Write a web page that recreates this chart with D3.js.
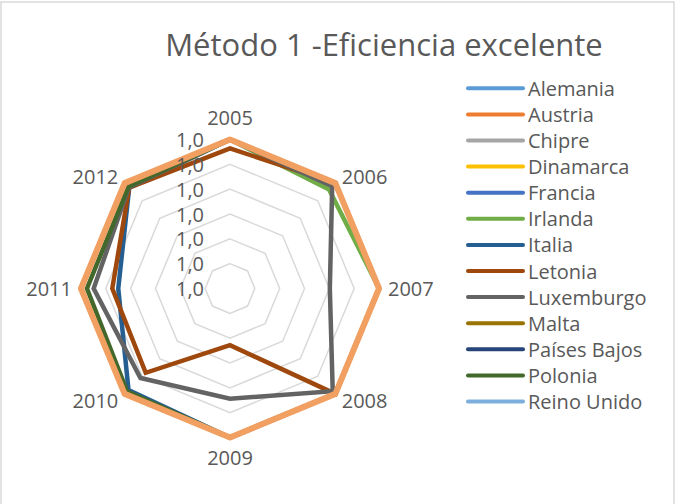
<!DOCTYPE html>
<html>
<head>
<meta charset="utf-8">
<script src="https://cdn.jsdelivr.net/npm/d3@7"></script>
<style>
  body { margin: 0; background: #fff; }
  text { font-family: "Open Sans", sans-serif; fill: #595959; }
</style>
</head>
<body>
<svg id="chart" width="675" height="504"></svg>
<script>
// radar chart - Método 1
const years = ["2005", "2006", "2007", "2008", "2009", "2010", "2011", "2012"];
const tickValues = [0.97, 0.975, 0.98, 0.985, 0.99, 0.995, 1.0];

const countries = ["Alemania", "Austria", "Chipre", "Dinamarca", "Francia", "Irlanda", "Italia", "Letonia", "Luxemburgo", "Malta", "Países Bajos", "Polonia", "Reino Unido"];
const colors = ["#5B9BD5", "#ED7D31", "#A5A5A5", "#FFC000", "#4472C4", "#70AD47", "#255E91", "#9E480E", "#636363", "#997300", "#264478", "#43682B", "#7CAFDD"];

const alemania   = [1, 1, 1, 1, 1, 1, 1, 1];
const austria    = [1, 1, 1, 1, 1, 1, 1, 1];
const chipre     = [1, 1, 1, 1, 1, 1, 1, 1];
const dinamarca  = [1, 1, 1, 1, 1, 1, 1, 1];
const francia    = [1, 1, 1, 1, 1, 1, 1, 1];
const irlanda    = [1, 0.9982, 1, 1, 1, 1, 1, 1];
const italia     = [1, 1, 1, 1, 1, 0.9989, 0.9925, 0.9987];
const letonia    = [0.9982, 1, 1, 1, 0.9814, 0.994, 0.9937, 0.9987];
const luxemburgo = [1, 0.9991, 0.9901, 0.99925, 0.9922, 0.9955, 0.99745, 0.9988];
const malta      = [1, 1, 1, 1, 1, 1, 1, 1];
const paisesBajos = [1, 1, 1, 1, 1, 1, 1, 1];
const polonia    = [1, 1, 1, 1, 1, 0.9993, 0.9988, 0.99895];
const reinoUnido = [1, 1, 1, 1, 1, 1, 1, 1];

const seriesValues = [alemania, austria, chipre, dinamarca, francia, irlanda, italia, letonia, luxemburgo, malta, paisesBajos, polonia, reinoUnido];

const svg = d3.select("#chart");
const cx = 230, cy = 288.5, R = 149;

const r = d3.scaleLinear().domain([tickValues[0], tickValues[tickValues.length - 1]]).range([0, R]);
const angle = d3.scalePoint().domain(years).range([0, 2 * Math.PI * (years.length - 1) / years.length]);
const fmt = d3.formatLocale({decimal: ",", thousands: ".", grouping: [3], currency: ["", "€"]}).format(".1f");

const pt = (yr, v) => [cx + r(v) * Math.sin(angle(yr)), cy - r(v) * Math.cos(angle(yr))];

// borde
svg.append("rect")
  .attr("x", 1).attr("y", 2).attr("width", 673).attr("height", 520)
  .attr("fill", "none").attr("stroke", "#D9D9D9").attr("stroke-width", 1.5);

// título
svg.append("text")
  .attr("x", 384).attr("y", 56)
  .attr("text-anchor", "middle")
  .style("font-size", "31px")
  .text("Método 1 -Eficiencia excelente");

// anillos
const ring = d3.line().curve(d3.curveLinearClosed);
svg.append("g").selectAll("path")
  .data(tickValues.slice(1))
  .join("path")
  .attr("d", v => ring(years.map(y => pt(y, v))))
  .attr("fill", "none")
  .attr("stroke", "#D9D9D9")
  .attr("stroke-width", 1.5);

// series
const line = d3.line().curve(d3.curveLinearClosed);
const gs = svg.append("g");
gs.selectAll("path")
  .data(seriesValues)
  .join("path")
  .attr("d", vals => line(years.map((y, i) => pt(y, vals[i]))))
  .attr("fill", "none")
  .attr("stroke", (d, i) => colors[i])
  .attr("stroke-width", 4.5)
  .attr("stroke-linejoin", "miter");
// Austria queda encima
gs.selectAll("path").filter((d, i) => i === 1)
  .attr("stroke", "#F2A062")
  .attr("stroke-width", 6)
  .attr("stroke-linejoin", "round")
  .raise();

// etiquetas de valor
svg.append("g").selectAll("text")
  .data(tickValues)
  .join("text")
  .attr("x", 204)
  .attr("y", v => cy - r(v))
  .attr("text-anchor", "end")
  .attr("dominant-baseline", "central")
  .style("font-size", "20px")
  .text(v => fmt(v));

// etiquetas de años
svg.append("g").selectAll("text")
  .data(years)
  .join("text")
  .each(function (yr) {
    const a = angle(yr), s = Math.sin(a), c = Math.cos(a);
    const t = d3.select(this).style("font-size", "20px").text(yr);
    if (Math.abs(s) < 0.1) {
      t.attr("x", cx).attr("text-anchor", "middle");
      if (c > 0) t.attr("y", cy - R - 15);
      else t.attr("y", cy + R + 27);
    } else {
      const rr = R + 9;
      t.attr("x", cx + rr * s).attr("y", cy - rr * c)
        .attr("text-anchor", s > 0 ? "start" : "end")
        .attr("dominant-baseline", "central");
    }
  });

// leyenda
const leg = svg.append("g").selectAll("g")
  .data(countries)
  .join("g")
  .attr("transform", (d, i) => `translate(0,${88.3 + i * 26.1})`);
leg.append("line")
  .attr("x1", 468).attr("x2", 523)
  .attr("stroke", (d, i) => colors[i])
  .attr("stroke-width", 4)
  .attr("stroke-linecap", "round");
leg.append("text")
  .attr("x", 528)
  .attr("dominant-baseline", "central")
  .style("font-size", "20px")
  .text(d => d);
</script>
</body>
</html>
